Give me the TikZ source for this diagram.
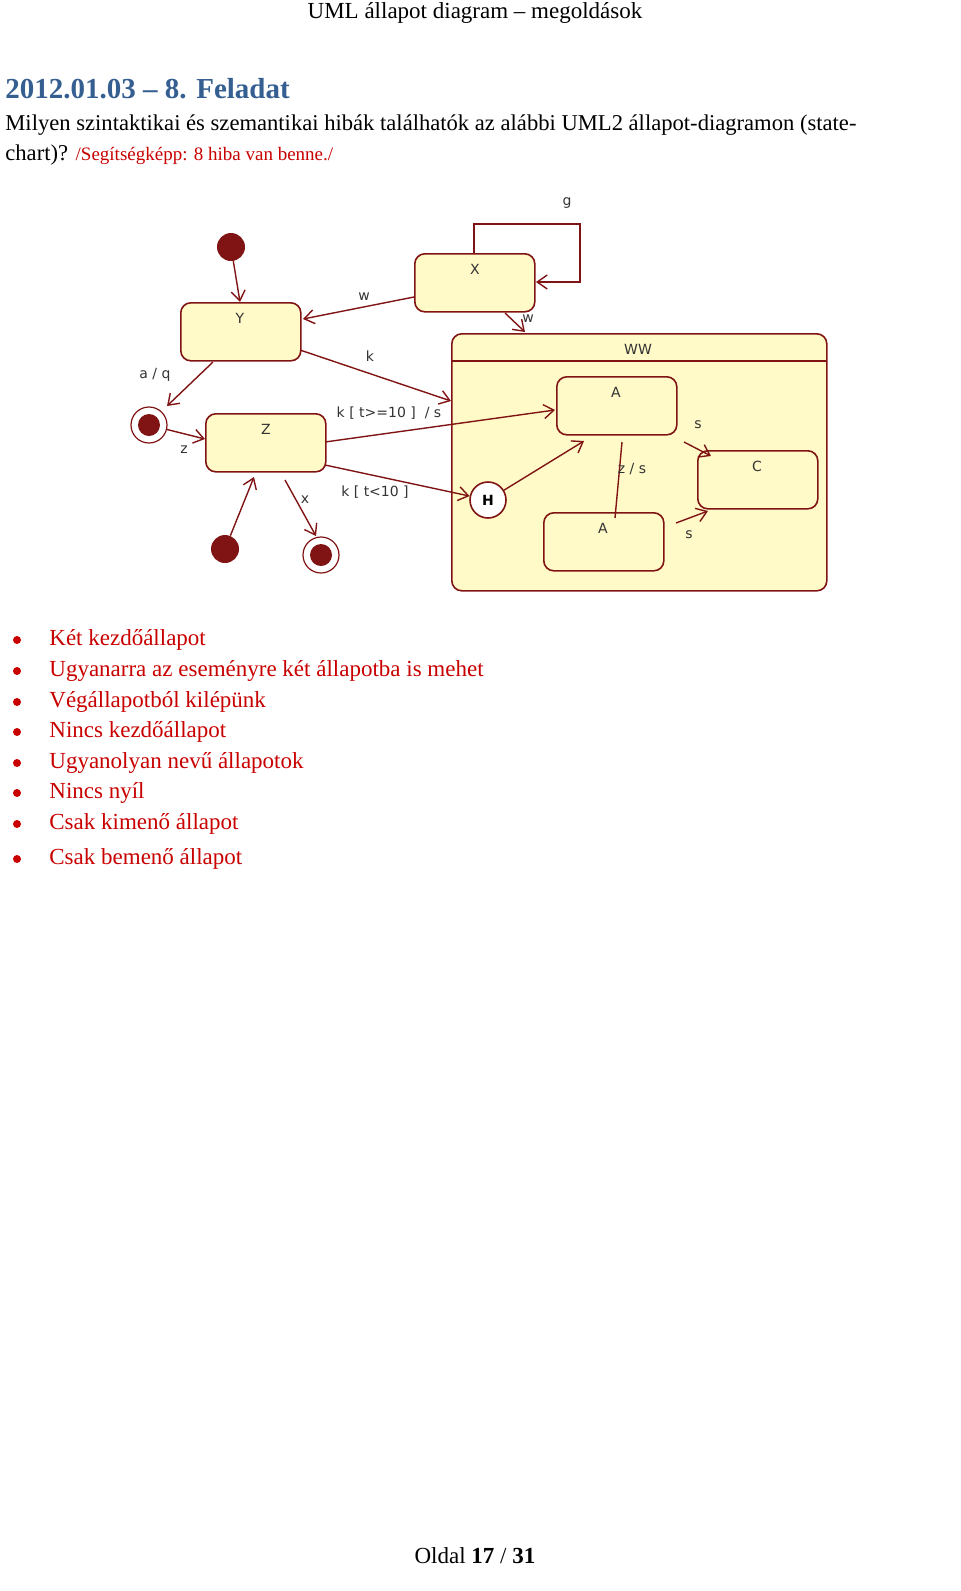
\documentclass[tikz,border=0pt]{standalone}
\usepackage{fontspec}
\setmainfont{Liberation Serif}
\newfontfamily\diagfont{DejaVu Sans}
\usetikzlibrary{arrows.meta}
\definecolor{dred}{RGB}{128,20,20}
\definecolor{sfill}{RGB}{255,250,200}
\definecolor{tblue}{RGB}{54,95,145}
\definecolor{tred}{RGB}{200,0,0}
\begin{document}
\begin{tikzpicture}[x=0.5pt,y=-0.5pt,
  st/.style={draw=dred,fill=sfill,line width=0.8pt,rounded corners=5pt},
  lbl/.style={font=\diagfont\fontsize{7}{8}\selectfont,text=black!80,inner sep=0pt},
  tr/.style={draw=dred,line width=0.7pt,-{Straight Barb[length=5pt,width=7pt]}},
  ini/.style={circle,fill=dred,minimum size=14pt,inner sep=0pt},
  fin/.style={circle,draw=dred,fill=white,line width=0.6pt,minimum size=18pt,inner sep=0pt,path picture={\fill[dred] (path picture bounding box.center) circle (5.5pt);}},
  bul/.style={anchor=west,font=\fontsize{11.5}{13}\selectfont,text=tred,inner sep=0pt},
  dot/.style={circle,fill=tred,minimum size=4pt,inner sep=0pt}]
\useasboundingbox (0,0) rectangle (960,1591);
% header
\node (hdr) at (475,13) {\fontsize{11.5}{13}\selectfont UML állapot diagram -- megoldások};
\node[anchor=west,inner sep=0pt,text=tblue] (ttl) at (5,89) {\fontsize{14.5}{16}\selectfont\bfseries 2012.01.03 -- 8. Feladat};
\node[anchor=west,inner sep=0pt] (q1) at (5,125) {\fontsize{11.3}{13}\selectfont Milyen szintaktikai és szemantikai hibák találhatók az alábbi UML2 állapot-diagramon (state-};
\node[anchor=west,inner sep=0pt] (q2) at (5,155) {\fontsize{11.3}{13}\selectfont chart)? {\color{tred}\fontsize{9.5}{11}\selectfont /Segítségképp: 8 hiba van benne./}};
% WW composite
\node[st,minimum width=187.5pt,minimum height=128.5pt,anchor=north west] (ww) at (451,333) {};
\draw[dred,line width=0.8pt] (451,361) -- (826,361);
\node[lbl] (wwl) at (638,349) {WW};
% states
\node[st,minimum width=60pt,minimum height=29pt,anchor=north west] (y) at (180,302) {};
\node[lbl] at (240,318) {Y};
\node[st,minimum width=60pt,minimum height=29pt,anchor=north west] (x) at (414,253) {};
\node[lbl] at (475,269) {X};
\node[st,minimum width=60pt,minimum height=29pt,anchor=north west] (z) at (205,413) {};
\node[lbl] at (266,429) {Z};
\node[st,minimum width=60pt,minimum height=29pt,anchor=north west] (a1) at (556,376) {};
\node[lbl] at (616,392) {A};
\node[st,minimum width=60pt,minimum height=29pt,anchor=north west] (c) at (697,450) {};
\node[lbl] at (757,466) {C};
\node[st,minimum width=60pt,minimum height=29pt,anchor=north west] (a2) at (543,512) {};
\node[lbl] at (603,528) {A};
\node[circle,draw=dred,fill=white,line width=0.8pt,minimum size=18pt,inner sep=0pt,font=\diagfont\bfseries\fontsize{7}{8}\selectfont] (h) at (488,500) {H};
% pseudo states
\node[ini] (i1) at (231,247) {};
\node[ini] (i2) at (225,549) {};
\node[fin] (f1) at (149,425) {};
\node[fin] (f2) at (321,555) {};
% transitions
\draw[tr] (i1) -- (240,302);
\draw[tr] (414,297) -- (303,319) node[lbl,pos=0.45,above=3pt] {w};
\draw[tr] (505,313) -- (525,332);
\node[lbl] at (528,319) {w};
\draw[tr] (474,253) |- (580,224) |- (536,282);
\node[lbl] at (567,203) {g};
\draw[tr] (300,350) -- (451,401);
\node[lbl] at (370,356) {k};
\draw[tr] (213,362) -- (167,406);
\node[lbl] at (155,375) {a / q};
\draw[tr] (f1) -- (205,439);
\node[lbl] at (184,450) {z};
\draw[tr] (325,442) -- (555,410);
\node[lbl] at (389,413) {k [ t>=10 ] \ / s};
\draw[tr] (325,465) -- (h);
\node[lbl] at (375,492) {k [ t<10 ]};
\draw[tr] (i2) -- (254,477);
\draw[tr] (285,480) -- (316,536);
\node[lbl] at (305,500) {x};
\draw[tr] (h) -- (584,441);
\draw[dred,line width=0.7pt] (622,442) -- (615,518);
\node[lbl] at (632,469) {z / s};
\draw[tr] (684,442) -- (711,456);
\node[lbl] at (698,425) {s};
\draw[tr] (676,523) -- (708,511);
\node[lbl] at (689,535) {s};
% bullets
\foreach \yy/\t [count=\i] in {640/Két kezdőállapot,671/Ugyanarra az eseményre két állapotba is mehet,702/Végállapotból kilépünk,732/Nincs kezdőállapot,763/Ugyanolyan nevű állapotok,793/Nincs nyíl,824/Csak kimenő állapot,859/Csak bemenő állapot}{
  \node[dot] (d\i) at (17,\yy) {};
  \node[bul] (b\i) at (49,\yy) {\t};
}
\node (foot) at (475,1556) {\fontsize{11.5}{13}\selectfont Oldal \textbf{17} / \textbf{31}};
\end{tikzpicture}
\end{document}
